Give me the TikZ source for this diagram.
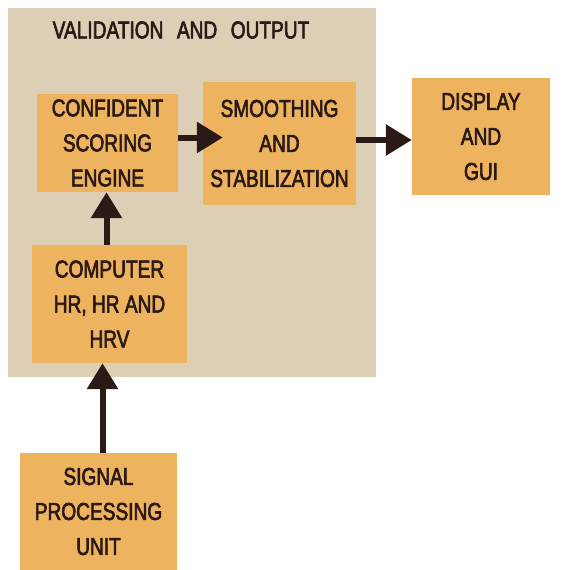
\documentclass[tikz,border=0pt]{standalone}
\usepackage{fontspec}
\setmainfont{Liberation Sans}[FakeStretch=0.78, FakeBold=2.5]
\usepackage{xcolor}
\usetikzlibrary{arrows.meta,positioning}

\definecolor{panelbg}{HTML}{DCCFB6}
\definecolor{boxfill}{HTML}{EDB35F}
\definecolor{inkbrown}{HTML}{2A1915}

\begin{document}
\begin{tikzpicture}[x=1pt, y=-1pt, font=\fontsize{24.5}{35}\selectfont, text=inkbrown,
  block/.style={fill=boxfill, align=center, inner sep=0pt},
  arr/.style={draw=inkbrown, line width=6pt, -{Triangle[length=26pt,width=30pt]}}]
\useasboundingbox (0,0) rectangle (563,570);
% grey panel behind the validation stage
\fill[panelbg] (8,8) rectangle (376,377);
\node (title) at (181,30) {VALIDATION\hspace{0.55em}AND\hspace{0.55em}OUTPUT};
\node[block, minimum width=141pt, minimum height=98pt] (conf) at (107.5,143) {CONFIDENT\\SCORING\\ENGINE};
\node[block, minimum width=153pt, minimum height=123pt] (smooth) at (279.5,143.5) {SMOOTHING\\AND\\STABILIZATION};
\node[block, minimum width=138pt, minimum height=117pt] (disp) at (481,136.5) {DISPLAY\\AND\\GUI};
\node[block, minimum width=155pt, minimum height=118pt] (comp) at (109.5,304) {COMPUTER\\HR, HR AND\\HRV};
\node[block, minimum width=157pt, minimum height=117pt] (sig) at (98.5,511.5) {SIGNAL\\PROCESSING\\UNIT};
\draw[arr, shorten >=-20pt] ([yshift=5.5pt]conf.east) -- ([yshift=5.5pt]conf.east -| smooth.west);
\draw[arr] ([yshift=3.5pt]smooth.east) -- ([yshift=3.5pt]smooth.east -| disp.west);
\draw[arr] ([xshift=-3pt]comp.north) -- ([xshift=-3pt]comp.north |- conf.south);
\draw[arr] ([xshift=4pt]sig.north) -- ([xshift=4pt]sig.north |- comp.south);
\end{tikzpicture}
\end{document}
